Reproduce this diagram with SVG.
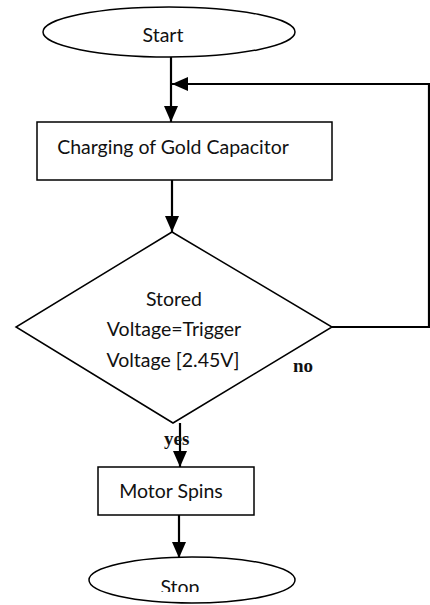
<svg xmlns="http://www.w3.org/2000/svg" width="430" height="605" viewBox="0 0 430 605">
  <style>
    .shape { fill: #ffffff; stroke: #000000; stroke-width: 1.5; }
    .label { font-family: Lato, "Liberation Sans", sans-serif; font-size: 19.5px; fill: #111111; text-anchor: middle; }
    .cond { font-family: "Liberation Serif", serif; font-weight: bold; font-size: 19px; fill: #111111; }
    .conn { fill: none; stroke: #000000; stroke-width: 2.2; }
  </style>
  <defs>
    <marker id="arrow" markerUnits="userSpaceOnUse" markerWidth="16" markerHeight="14" refX="16" refY="7" orient="auto">
      <path d="M0,0 L16,7 L0,14 Z" fill="#000000"/>
    </marker>
    <clipPath id="clipBottom">
      <rect x="0" y="0" width="430" height="592"/>
    </clipPath>
  </defs>
  <rect width="430" height="605" fill="#ffffff"/>

  <g id="connectors">
    <path class="conn" d="M171,57 V122" marker-end="url(#arrow)"/>
    <path class="conn" d="M332,327 H429 V84 H172" stroke-width="1.8" marker-end="url(#arrow)"/>
    <path class="conn" d="M172,180 V232" marker-end="url(#arrow)"/>
    <path class="conn" d="M180,423 V467" marker-end="url(#arrow)"/>
    <path class="conn" d="M179,515 V558" marker-end="url(#arrow)"/>
  </g>

  <g id="start">
    <ellipse class="shape" cx="169" cy="32" rx="126" ry="25"/>
    <text class="label" x="163" y="42">Start</text>
  </g>

  <g id="charging">
    <rect class="shape" x="37" y="122" width="295" height="58"/>
    <text class="label" x="173" y="154">Charging of Gold Capacitor</text>
  </g>

  <g id="decision">
    <polygon class="shape" points="172,232 332,327 173,423 16,327"/>
    <text class="label" x="174" y="306">Stored</text>
    <text class="label" x="174" y="336">Voltage=Trigger</text>
    <text class="label" x="173" y="367">Voltage [2.45V]</text>
  </g>

  <g id="labels">
    <text class="cond" x="293" y="372">no</text>
    <text class="cond" x="164" y="445">yes</text>
  </g>

  <g id="motor">
    <rect class="shape" x="98" y="467" width="156" height="48"/>
    <text class="label" x="171" y="498">Motor Spins</text>
  </g>

  <g id="stop">
    <ellipse class="shape" cx="192" cy="580" rx="103" ry="23"/>
    <text class="label" x="180" y="594" clip-path="url(#clipBottom)">Stop</text>
  </g>
</svg>
